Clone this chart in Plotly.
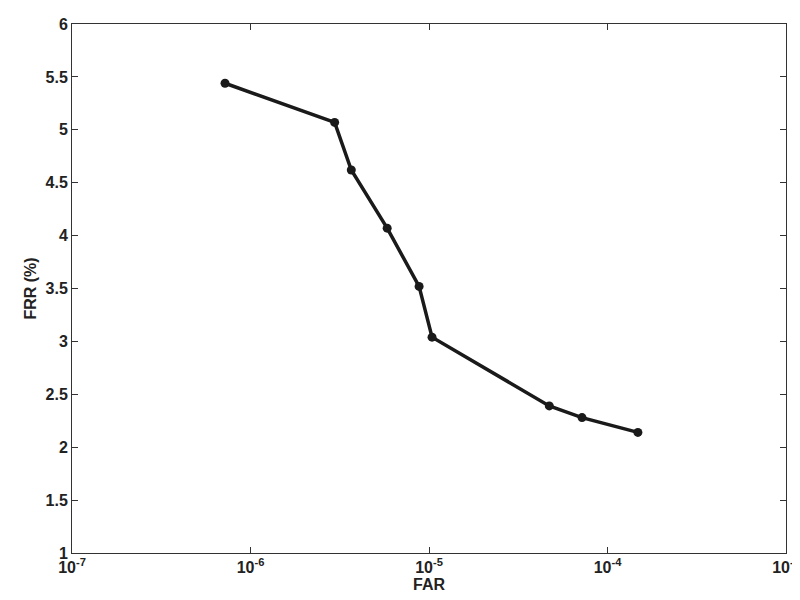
import plotly.graph_objects as go

far = [7.2e-7, 2.96e-6, 3.67e-6, 5.83e-6, 8.8e-6, 1.04e-5, 4.72e-5, 7.2e-5, 1.48e-4]
frr = [5.44, 5.07, 4.62, 4.07, 3.52, 3.04, 2.39, 2.28, 2.14]
xtick_vals = [1e-7, 1e-6, 1e-5, 1e-4, 1e-3]
xtick_text = ["<b>10<sup>-7</sup></b>", "<b>10<sup>-6</sup></b>", "<b>10<sup>-5</sup></b>",
              "<b>10<sup>-4</sup></b>", "<b>10<sup>-3</sup></b>"]
ytick_vals = [1, 1.5, 2, 2.5, 3, 3.5, 4, 4.5, 5, 5.5, 6]

fig = go.Figure(go.Scatter(x=far, y=frr, mode="lines+markers",
                           line=dict(color="#1a1a1a", width=3.5),
                           marker=dict(color="#1a1a1a", size=9)))
tf = dict(family="Liberation Sans, Arial", size=16, color="#222")
fig.update_layout(width=800, height=600, plot_bgcolor="white", paper_bgcolor="white",
                  margin=dict(l=64, r=18, t=8, b=55), showlegend=False, font=tf)
fig.update_xaxes(type="log", range=[-7, -3], tickvals=xtick_vals, ticktext=xtick_text,
                 showline=True, mirror="ticks", linecolor="#333", linewidth=1,
                 ticks="inside", ticklen=6, tickcolor="#333", showgrid=False,
                 ticklabeloverflow="allow",
                 title=dict(text="<b>FAR</b>", standoff=2, font=dict(size=16)), tickfont=tf)
fig.update_yaxes(range=[1, 6], tickvals=ytick_vals, ticktext=[f"<b>{v:g}</b>" for v in ytick_vals],
                 showline=True, mirror="ticks", linecolor="#333", linewidth=1,
                 ticks="inside", ticklen=6, tickcolor="#333", showgrid=False, zeroline=False,
                 title=dict(text="<b>FRR (%)</b>", standoff=4, font=dict(size=16)), tickfont=tf)
fig.write_html("out.html")
